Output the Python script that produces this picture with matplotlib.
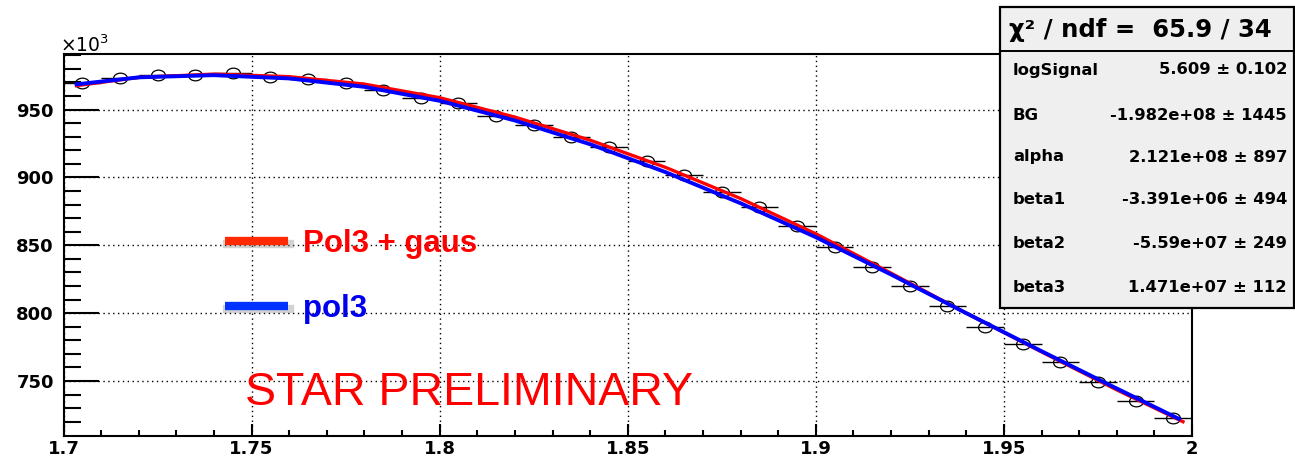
import numpy as np
import matplotlib
matplotlib.use("Agg")
import matplotlib.pyplot as plt
from matplotlib.path import Path
from matplotlib.patches import Rectangle

# histogram bins (centres) and contents, in units of 10^3
bin_x = [1.705, 1.715, 1.725, 1.735, 1.745, 1.755, 1.765, 1.775, 1.785, 1.795,
         1.805, 1.815, 1.825, 1.835, 1.845, 1.855, 1.865, 1.875, 1.885, 1.895,
         1.905, 1.915, 1.925, 1.935, 1.945, 1.955, 1.965, 1.975, 1.985, 1.995]
bin_y = [969.7, 973.4, 975.5, 975.3, 977.3, 974.3, 972.6, 969.6, 964.7, 958.6,
         955.0, 945.0, 938.5, 930.0, 922.5, 912.0, 902.0, 889.5, 878.5, 864.0,
         849.0, 834.1, 820.1, 805.4, 789.9, 777.3, 764.0, 749.3, 735.2, 722.7]
bin_half = 0.005

# fit curves
pol3_x = [1.703, 1.72, 1.74, 1.76, 1.78, 1.80, 1.82, 1.84, 1.86, 1.88,
          1.90, 1.92, 1.94, 1.96, 1.98, 1.997]
pol3_y = [968.5, 973.8, 975.4, 973.0, 966.8, 956.5, 942.0, 924.5, 904.0, 881.0,
          856.0, 828.5, 800.0, 772.0, 744.5, 721.5]
gaus_x = [1.703, 1.72, 1.74, 1.76, 1.78, 1.80, 1.82, 1.84, 1.86, 1.88,
          1.90, 1.92, 1.94, 1.96, 1.98, 1.998]
gaus_y = [967.5, 973.8, 976.2, 974.3, 968.8, 958.8, 944.5, 927.5, 907.5, 884.5,
          858.5, 829.5, 800.0, 771.5, 743.5, 719.5]

# fit statistics box
chi2_text = "χ² / ndf =  65.9 / 34"
par_names = ["logSignal", "BG", "alpha", "beta1", "beta2", "beta3"]
par_values = ["5.609 ± 0.102", "-1.982e+08 ± 1445", "2.121e+08 ± 897",
              "-3.391e+06 ± 494", "-5.59e+07 ± 249", "1.471e+07 ± 112"]

W, H = 1295, 462
fig = plt.figure(figsize=(W / 100, H / 100), dpi=100)
ax = fig.add_axes([63.5 / W, 1 - 436 / H, (1192 - 63.5) / W, (436 - 54) / H])


def fx(px):
    return px / W


def fy(py):
    return 1 - py / H


# stretched open circle like the ROOT marker
circ = Path.unit_circle()
ell = Path(circ.vertices * np.array([1.3, 1.0]), circ.codes)

ax.errorbar(bin_x, bin_y, xerr=bin_half, fmt='none', ecolor='black', elinewidth=1.0, zorder=2)
ax.plot(bin_x, bin_y, linestyle='none', marker=ell, markersize=10,
        markerfacecolor='none', markeredgecolor='black', markeredgewidth=0.9, zorder=3)

ax.plot(gaus_x, gaus_y, color='#ff0000', lw=2.4, solid_capstyle='butt', zorder=4)
ax.plot(pol3_x, pol3_y, color='#0000ff', lw=2.8, solid_capstyle='butt', zorder=5)

ax.set_xlim(1.7, 2.0)
ax.set_ylim(709.5, 991)
ax.set_xticks([1.7, 1.75, 1.8, 1.85, 1.9, 1.95, 2.0])
ax.set_xticklabels(["1.7", "1.75", "1.8", "1.85", "1.9", "1.95", "2"])
ax.set_xticks(np.arange(1.71, 2.0, 0.01), minor=True)
ax.set_yticks([750, 800, 850, 900, 950])
ax.set_yticks([720, 730, 740, 760, 770, 780, 790, 810, 820, 830, 840,
               860, 870, 880, 890, 910, 920, 930, 940, 960, 970, 980, 990], minor=True)

ax.tick_params(axis='both', which='both', direction='in', top=False, right=False,
               colors='black', width=1.5)
ax.tick_params(axis='y', which='major', length=25, pad=7)
ax.tick_params(axis='y', which='minor', length=12)
ax.tick_params(axis='x', which='major', length=8.5, pad=3)
ax.tick_params(axis='x', which='minor', length=4.3)
for lab in ax.get_xticklabels() + ax.get_yticklabels():
    lab.set_fontfamily('DejaVu Sans')
    lab.set_fontweight('bold')
    lab.set_fontsize(13)

ax.grid(True, which='major', color='black', linestyle=(0, (1, 2.5)), linewidth=1.0)
for s in ax.spines.values():
    s.set_linewidth(1.5)

fig.text(fx(60), fy(52), "×10$^{3}$", fontsize=13.5, family='DejaVu Sans', va='baseline')

# legend drawn as overlay
for py, col in [(241, '#ff2a00'), (306, '#0033ff')]:
    fig.add_artist(plt.Line2D([fx(227), fx(290)], [fy(py + 3), fy(py + 3)],
                              transform=fig.transFigure, color='gray', lw=6, alpha=0.35))
    fig.add_artist(plt.Line2D([fx(225), fx(288)], [fy(py), fy(py)],
                              transform=fig.transFigure, color=col, lw=6,
                              solid_capstyle='butt'))
fig.text(fx(303), fy(252), "Pol3 + gaus", color='#ff0000', fontsize=22.5,
         family='Liberation Sans', fontweight='bold', va='baseline')
fig.text(fx(303), fy(317), "pol3", color='#0000ee', fontsize=22.5,
         family='Liberation Sans', fontweight='bold', va='baseline')
fig.text(fx(245), fy(405), "STAR PRELIMINARY", color='#ff0000', fontsize=33.5,
         family='Liberation Sans', va='baseline')

# statistics box
x0, x1, y0, y1 = 1000, 1294, 7, 308
fig.add_artist(Rectangle((fx(x0), fy(y1)), fx(x1 - x0), (y1 - y0) / H,
                         transform=fig.transFigure, facecolor='#efefef',
                         edgecolor='black', lw=1.6, zorder=10))
fig.add_artist(plt.Line2D([fx(x0), fx(x1)], [fy(51), fy(51)], transform=fig.transFigure,
                          color='black', lw=1.4, zorder=11))
fig.text(fx(1009), fy(30), chi2_text, fontsize=17.5, family='DejaVu Sans',
         fontweight='bold', va='center', zorder=12)
row_y = [70, 115, 157, 200, 243, 287]
for name, val, py in zip(par_names, par_values, row_y):
    fig.text(fx(1013), fy(py), name, fontsize=11.8, family='DejaVu Sans',
             fontweight='bold', va='center', zorder=12)
    fig.text(fx(1287), fy(py), val, fontsize=11.8, family='DejaVu Sans',
             fontweight='bold', va='center', ha='right', zorder=12)

fig.savefig("out.png", dpi=100)
